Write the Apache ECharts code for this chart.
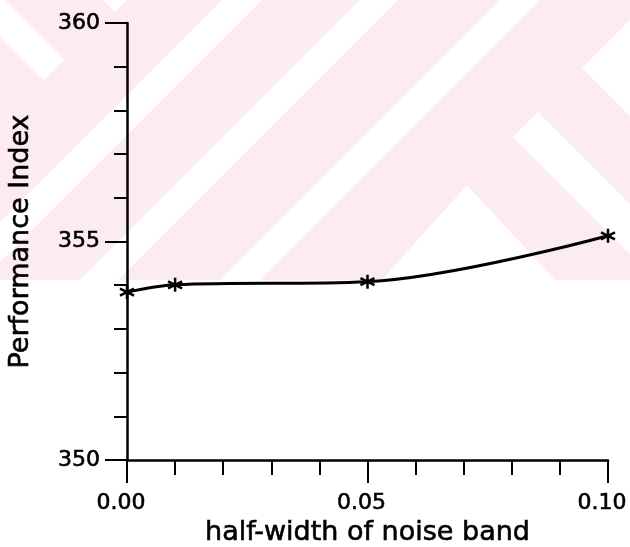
<!DOCTYPE html>
<html>
<head>
<meta charset="utf-8">
<script src="https://cdn.jsdelivr.net/npm/echarts@6/dist/echarts.min.js"></script>
<style>html,body{margin:0;padding:0;background:#fff;}#c{width:630px;height:547px;}</style>
</head>
<body>
<div id="c"></div>
<script>
var noiseHalfWidth = [0.00, 0.01, 0.05, 0.10];
var performanceIndex = [353.84, 354.01, 354.08, 355.13];
var xTickLabels = ['0.00', '0.05', '0.10'];
var yTickLabels = ['350', '355', '360'];

var FONT = 'DejaVu Sans';
var PINK = '#fdecef';

function poly(pts, fill) {
  return { type: 'polygon', z: -10, silent: true, shape: { points: pts }, style: { fill: fill } };
}

var chart = echarts.init(document.getElementById('c'), null, { renderer: 'canvas' });
var star = 'path://M0,5 L17.32,15 M0,15 L17.32,5 M8.66,0 L8.66,20';
var textThick = { textBorderColor: '#000', textBorderWidth: 0.6 };

chart.setOption({
  backgroundColor: '#ffffff',
  animation: false,
  graphic: [
    { type: 'rect', z: -11, silent: true, shape: { x: 0, y: 0, width: 630, height: 280 }, style: { fill: PINK } },
    poly([[222,0],[262,0],[0,262],[0,222]], '#fff'),
    poly([[360,0],[398,0],[118,280],[80,280]], '#fff'),
    poly([[500,0],[540,0],[260,280],[220,280]], '#fff'),
    poly([[0,0],[5,0],[64.5,59.5],[43.5,80.5],[0,37]], '#fff'),
    poly([[103,0],[127,0],[115,12]], '#fff'),
    poly([[630,20],[582,68],[630,116]], '#fff'),
    poly([[538,112],[630,204],[630,254],[513,137]], '#fff'),
    poly([[467,185],[555,280],[382,280]], '#fff')
  ],
  grid: { left: 127, right: 22, top: 23, bottom: 87, containLabel: false, outerBoundsMode: 'none' },
  xAxis: {
    type: 'value', min: 0, max: 0.10, interval: 0.05,
    name: 'half-width of noise band', nameLocation: 'middle', nameGap: 54,
    nameTextStyle: Object.assign({ fontFamily: FONT, fontSize: 27, color: '#000' }, textThick),
    axisLine: { show: true, onZero: false, lineStyle: { color: '#000', width: 2.5 } },
    axisTick: { show: true, length: 23, lineStyle: { color: '#000', width: 2 } },
    minorTick: { show: true, splitNumber: 5, length: 15, lineStyle: { color: '#000', width: 2 } },
    splitLine: { show: false },
    minorSplitLine: { show: false },
    axisLabel: Object.assign({
      margin: 32, fontFamily: FONT, fontSize: 22, color: '#000', padding: [0, 12, 0, 0],
      formatter: function (v) { var i = Math.round(v / 0.05); return xTickLabels[i] || ''; }
    }, textThick)
  },
  yAxis: {
    type: 'value', min: 350, max: 360, interval: 5,
    name: 'Performance Index', nameLocation: 'middle', nameGap: 93, nameRotate: 90,
    nameTextStyle: Object.assign({ fontFamily: FONT, fontSize: 27, color: '#000' }, textThick),
    axisLine: { show: true, onZero: false, lineStyle: { color: '#000', width: 2.5 } },
    axisTick: { show: true, length: 22, lineStyle: { color: '#000', width: 2 } },
    minorTick: { show: true, splitNumber: 5, length: 13, lineStyle: { color: '#000', width: 2 } },
    splitLine: { show: false },
    minorSplitLine: { show: false },
    axisLabel: Object.assign({
      margin: 27, fontFamily: FONT, fontSize: 22, color: '#000',
      formatter: function (v) { var i = Math.round((v - 350) / 5); return yTickLabels[i] || ''; }
    }, textThick)
  },
  series: [{
    type: 'line',
    data: noiseHalfWidth.map(function (x, i) { return [x, performanceIndex[i]]; }),
    smooth: 0.35,
    symbol: star,
    symbolSize: 14,
    showSymbol: true,
    clip: false,
    lineStyle: { color: '#000', width: 3 },
    itemStyle: { color: '#000', borderColor: '#000', borderWidth: 2.5 }
  }]
});
</script>
</body>
</html>
